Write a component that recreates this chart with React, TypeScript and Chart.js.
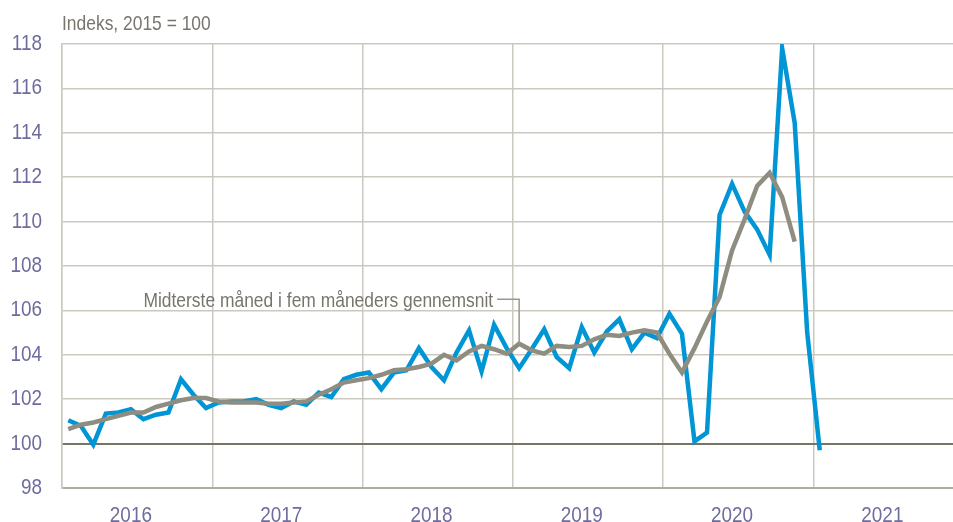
import React, { useEffect, useRef } from "react";
import { Chart, registerables } from "chart.js";

Chart.register(...registerables);

// ---- data ----
const yearLabels = ["2016", "2017", "2018", "2019", "2020", "2021"];
const yearBoundaries = [0, 12, 24, 36, 48, 60];
const yTicks = [98, 100, 102, 104, 106, 108, 110, 112, 114, 116, 118];

// Monthly index, Jan 2016 .. Jan 2021
const monthly = [
  101.05, 100.8, 99.95, 101.35, 101.4, 101.55, 101.1, 101.3, 101.4, 102.9, 102.2, 101.6,
  101.85, 101.9, 101.9, 102.0, 101.75, 101.6, 101.9, 101.75, 102.3, 102.1, 102.9, 103.1,
  103.2, 102.45, 103.2, 103.3, 104.3, 103.45, 102.85, 104.1, 105.1, 103.25, 105.35, 104.3,
  103.4, 104.25, 105.15, 103.9, 103.4, 105.25, 104.1, 105.05, 105.6, 104.25, 105.0, 104.75,
  105.85, 104.95, 100.1, 100.5, 110.3, 111.7, 110.45, 109.65, 108.5, 117.8, 114.45, 105.0,
  99.7,
];

// Middle month of five-month average, Jan 2016 .. Nov 2020
const centered = [
  100.65, 100.85, 100.95, 101.1, 101.25, 101.4, 101.4, 101.65, 101.8, 101.95, 102.05, 102.05,
  101.9, 101.85, 101.85, 101.85, 101.8, 101.8, 101.85, 101.9, 102.2, 102.45, 102.75, 102.85,
  102.95, 103.1, 103.3, 103.35, 103.45, 103.6, 104.0, 103.75, 104.15, 104.4, 104.25, 104.05,
  104.5, 104.2, 104.05, 104.4, 104.35, 104.4, 104.7, 104.9, 104.85, 105.0, 105.1, 105.0,
  104.05, 103.2, 104.3, 105.5, 106.6, 108.7, 110.1, 111.6, 112.2, 111.1, 109.1,
];

const titleText = "Indeks, 2015 = 100";
const annotationText = "Midterste måned i fem måneders gennemsnit";
const annotationMonth = 36;
const annotationLabelY = 106.5;

const X_MAX = 71.14;
const FONT = "'Liberation Sans', Arial, sans-serif";
const SX = 0.83; // horizontal condensing of text
const SX_TICK = 0.88;
const GRID = "#cbc9bf";
const DARK = "#77755f";
const TICK = "#6e6c9e";
const TEXT = "#77756c";

function narrowText(
  ctx: CanvasRenderingContext2D,
  text: string,
  x: number,
  y: number,
  align: CanvasTextAlign,
  sx: number = SX
) {
  ctx.save();
  ctx.translate(x, y);
  ctx.scale(sx, 1);
  ctx.textAlign = align;
  ctx.textBaseline = "alphabetic";
  ctx.fillText(text, 0, 0);
  ctx.restore();
}

const overlay = {
  id: "overlay",
  afterDraw(chart: any) {
    const ctx: CanvasRenderingContext2D = chart.ctx;
    const area = chart.chartArea;
    const xs = chart.scales.x;
    const ys = chart.scales.y;
    ctx.save();

    // axis labels
    ctx.font = `21.5px ${FONT}`;
    ctx.fillStyle = TICK;
    yTicks.forEach((v) => {
      narrowText(ctx, String(v), area.left - 20, ys.getPixelForValue(v) + 6, "right", SX_TICK);
    });
    yearLabels.forEach((lab, i) => {
      narrowText(ctx, lab, xs.getPixelForValue(5.5 + i * 12), area.bottom + 34, "center", SX_TICK);
    });

    // title
    ctx.font = `21px ${FONT}`;
    ctx.fillStyle = TEXT;
    narrowText(ctx, titleText, area.left, 30, "left");

    // annotation
    const tx = xs.getPixelForValue(annotationMonth + 0.5);
    const ty = ys.getPixelForValue(centered[annotationMonth]);
    const ly = ys.getPixelForValue(annotationLabelY);
    ctx.strokeStyle = "#9a978c";
    ctx.lineWidth = 1.5;
    ctx.beginPath();
    ctx.moveTo(tx - 22, ly);
    ctx.lineTo(tx, ly);
    ctx.lineTo(tx, ty);
    ctx.stroke();
    narrowText(ctx, annotationText, tx - 26, ly + 7.5, "right");
    ctx.restore();
  },
};

export default function App() {
  const ref = useRef<HTMLCanvasElement>(null);
  useEffect(() => {
    document.body.style.margin = "0";
    const chart = new Chart(ref.current!, {
      type: "line",
      data: {
        datasets: [
          {
            label: "Gennemsnit",
            data: centered.map((v, i) => ({ x: i + 0.5, y: v })),
            borderColor: "#8f8c80",
            borderWidth: 4.5,
            pointRadius: 0,
            tension: 0,
          },
          {
            label: "Indeks",
            data: monthly.map((v, i) => ({ x: i + 0.5, y: v })),
            borderColor: "#0096d6",
            borderWidth: 4.5,
            pointRadius: 0,
            tension: 0,
          },
        ],
      },
      options: {
        responsive: false,
        animation: false,
        layout: { padding: { top: 44, left: 0, right: 0, bottom: 34 } },
        plugins: { legend: { display: false }, tooltip: { enabled: false }, title: { display: false } },
        scales: {
          x: {
            type: "linear",
            position: "bottom",
            min: 0,
            max: X_MAX,
            grid: { color: GRID, lineWidth: 1.5, drawTicks: false },
            border: { display: false },
            ticks: { display: false },
            afterBuildTicks: (s: any) => {
              s.ticks = yearBoundaries.map((v) => ({ value: v }));
            },
            afterFit: (s: any) => {
              s.height = 0;
            },
          },
          y: {
            type: "linear",
            min: 98,
            max: 118,
            grid: {
              color: (c: any) => (c.tick && c.tick.value === 100 ? DARK : c.tick && c.tick.value === 98 ? "#aeab9f" : GRID),
              lineWidth: (c: any) => (c.tick && (c.tick.value === 100 || c.tick.value === 98) ? 2 : 1.5),
              drawTicks: false,
            },
            border: { display: true, color: GRID, width: 1.5 },
            ticks: { display: false },
            afterBuildTicks: (s: any) => {
              s.ticks = yTicks.map((v) => ({ value: v }));
            },
            afterFit: (s: any) => {
              s.width = 62;
            },
          },
        },
      },
      plugins: [overlay],
    });
    return () => chart.destroy();
  }, []);
  return (
    <div style={{ position: "absolute", left: 0, top: 0, width: 953, height: 522, background: "#fff" }}>
      <canvas ref={ref} width={953} height={522} />
    </div>
  );
}
